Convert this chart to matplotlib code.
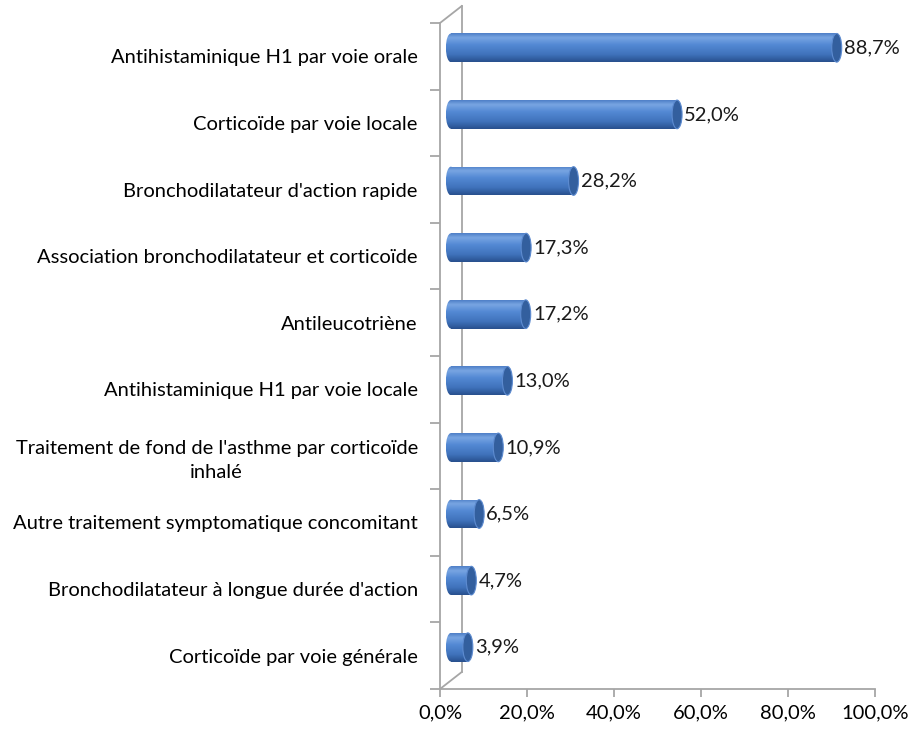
import numpy as np
import matplotlib
matplotlib.use("Agg")
import matplotlib.pyplot as plt
from matplotlib.patches import Rectangle, Ellipse
from matplotlib.colors import LinearSegmentedColormap

categories = [
    "Antihistaminique H1 par voie orale",
    "Corticoïde par voie locale",
    "Bronchodilatateur d'action rapide",
    "Association bronchodilatateur et corticoïde",
    "Antileucotriène",
    "Antihistaminique H1 par voie locale",
    "Traitement de fond de l'asthme par corticoïde\ninhalé",
    "Autre traitement symptomatique concomitant",
    "Bronchodilatateur à longue durée d'action",
    "Corticoïde par voie générale",
]
values = [88.7, 52.0, 28.2, 17.3, 17.2, 13.0, 10.9, 6.5, 4.7, 3.9]
xticks = [0, 20, 40, 60, 80, 100]

plt.rcParams["font.family"] = ["Lato", "DejaVu Sans"]
fs = 14.5

fig = plt.figure(figsize=(9.09, 7.29), dpi=100)
ax = fig.add_axes([440 / 909, 40 / 729, 435 / 909, 666 / 729])
n = len(categories)

# 3d depth of the Excel-style frame
dx = 5.0
dy = 0.255
grey = "#a6a6a6"

grad = LinearSegmentedColormap.from_list(
    "cyl", [(0, "#4f80c8"), (0.15, "#78a5e2"), (0.4, "#5389d4"),
            (0.75, "#3f72bb"), (1.0, "#28508e")])
col = np.linspace(0, 1, 64).reshape(-1, 1)

h = 0.43
ew = 2.3
for i, v in enumerate(values):
    yc = i - dy / 2
    x0 = dx / 2
    x1 = v + dx / 2
    ext = (x0 - ew / 2, x1, yc + h / 2, yc - h / 2)
    for clip in (Rectangle((x0, yc - h / 2), x1 - x0, h, transform=ax.transData),
                 Ellipse((x0, yc), ew, h, transform=ax.transData)):
        im = ax.imshow(col, cmap=grad, extent=ext, origin="upper",
                       aspect="auto", interpolation="bilinear", zorder=3)
        im.set_clip_path(clip)
    ax.add_patch(Ellipse((x1, yc), ew, h, facecolor="#335f9e",
                         edgecolor="#5d8bd0", lw=0.8, zorder=4))
    ax.text(x1 + ew / 2 + 0.5, yc, f"{v:.1f}%".replace(".", ","),
            ha="left", va="center", fontsize=fs, color="#1a1a1a", zorder=5)

ax.set_xlim(0, 100)
ax.set_ylim(n - 0.5, -0.5)

# frame: back wall and diagonals
kw = dict(color=grey, lw=1.3, clip_on=False, zorder=1)
ax.plot([dx, dx], [n - 0.5 - dy, -0.5 - dy], **kw)
ax.plot([0, dx], [n - 0.5, n - 0.5 - dy], **kw)
ax.plot([0, dx], [-0.5, -0.5 - dy], **kw)

for s in ["top", "right"]:
    ax.spines[s].set_visible(False)
for s in ["left", "bottom"]:
    ax.spines[s].set_color(grey)
    ax.spines[s].set_linewidth(1.3)

ax.set_xticks(xticks)
ax.set_xticklabels([f"{t:.1f}%".replace(".", ",") for t in xticks], fontsize=fs)
ax.tick_params(axis="x", length=6, color=grey, width=1.3, pad=5)

ax.set_yticks(np.arange(-0.5, n, 1.0))
ax.set_yticklabels([])
ax.set_yticks(np.arange(n), minor=True)
ax.set_yticklabels(categories, minor=True, fontsize=fs, multialignment="center",
                   linespacing=1.5)
ax.tick_params(axis="y", which="major", length=7, color=grey, width=1.3)
ax.tick_params(axis="y", which="minor", length=0, pad=16)

fig.savefig("out.png", dpi=100)
